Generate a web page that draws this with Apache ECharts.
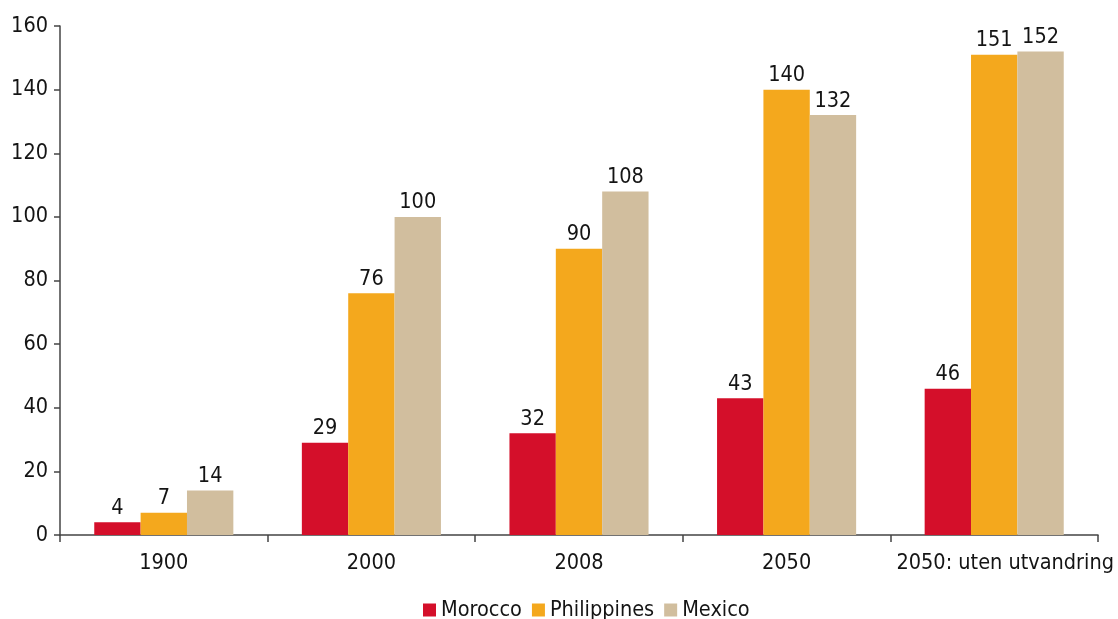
<!DOCTYPE html>
<html>
<head>
<meta charset="utf-8">
<script src="https://cdn.jsdelivr.net/npm/echarts@6/dist/echarts.min.js"></script>
<style>
  html, body { margin: 0; padding: 0; background: #fff; }
  #chart { width: 1118px; height: 619px; }
</style>
</head>
<body>
<div id="chart"></div>
<script>
// Categories along the x axis
const categories = ['1900', '2000', '2008', '2050', '2050: uten utvandring'];

// Series values
const morocco = [4, 29, 32, 43, 46];
const philippines = [7, 76, 90, 140, 151];
const mexico = [14, 100, 108, 132, 152];

// Y axis range
const yMin = 0, yMax = 160, yStep = 20;

const FONT = '"DejaVu Sans Condensed", "DejaVu Sans", sans-serif';
const TEXT = '#141414';
const SIZE = 21.5;

function barSeries(name, data, color) {
  return {
    name: name,
    type: 'bar',
    data: data,
    barGap: '0%',
    barCategoryGap: '33%',
    itemStyle: { color: color },
    label: {
      show: true,
      position: 'top',
      distance: 3,
      color: TEXT,
      fontFamily: FONT,
      fontSize: SIZE
    }
  };
}

const chart = echarts.init(document.getElementById('chart'), null, { renderer: 'canvas' });
chart.setOption({
  animation: false,
  textStyle: { fontFamily: FONT },
  grid: { left: 60, right: 20, top: 26, bottom: 84, containLabel: false },
  legend: {
    bottom: -7,
    left: 418,
    itemWidth: 13,
    itemHeight: 13,
    itemGap: 10,
    icon: 'rect',
    textStyle: { fontFamily: FONT, fontSize: SIZE, color: TEXT }
  },
  xAxis: {
    type: 'category',
    data: categories,
    axisLine: { lineStyle: { color: '#444', width: 1.5 } },
    axisTick: { show: true, alignWithLabel: false, length: 7, lineStyle: { color: '#444', width: 1.5 } },
    axisLabel: {
      color: TEXT, fontFamily: FONT, fontSize: SIZE, margin: 17, interval: 0,
      // the long last label sits slightly right of its slot centre
      formatter: (v, i) => i === categories.length - 1 ? '{wide|' + v + '}' : v,
      rich: { wide: { fontFamily: FONT, fontSize: SIZE, color: TEXT, padding: [0, 0, 0, 22] } }
    }
  },
  yAxis: {
    type: 'value',
    min: yMin,
    max: yMax,
    interval: yStep,
    splitLine: { show: false },
    axisLine: { show: true, lineStyle: { color: '#444', width: 1.5 } },
    axisTick: { show: true, length: 6, lineStyle: { color: '#444', width: 1.5 } },
    axisLabel: { color: TEXT, fontFamily: FONT, fontSize: SIZE, margin: 12 }
  },
  series: [
    barSeries('Morocco', morocco, '#D40F2A'),
    barSeries('Philippines', philippines, '#F4A81D'),
    barSeries('Mexico', mexico, '#D1BE9E')
  ]
});
</script>
</body>
</html>
